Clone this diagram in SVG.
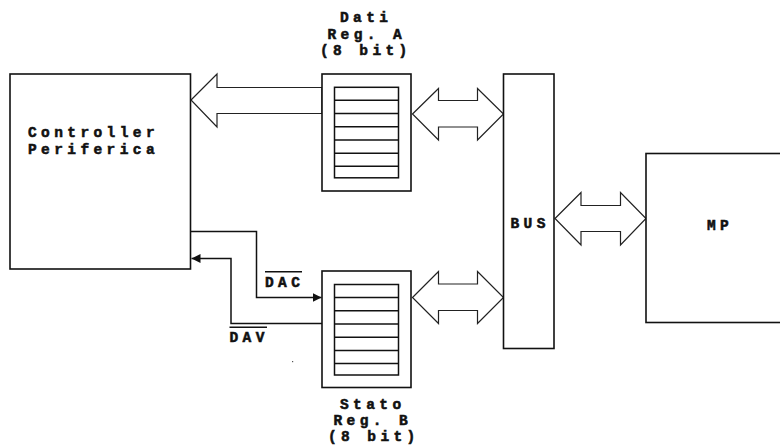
<svg xmlns="http://www.w3.org/2000/svg" width="780" height="446" viewBox="0 0 780 446">
  <style>
    .box { fill: #fff; stroke: #111; stroke-width: 1.6; }
    .reg { fill: #fff; stroke: #111; stroke-width: 1.5; }
    .row { stroke: #111; stroke-width: 1.5; }
    .big { fill: #fff; stroke: #222; stroke-width: 1.2; stroke-linejoin: miter; }
    .wire { fill: none; stroke: #111; stroke-width: 1.5; }
    .lbl { font-family: "Liberation Mono", "DejaVu Sans Mono", monospace; font-weight: bold; font-size: 14.5px; letter-spacing: 4.4px; fill: #111; stroke: #111; stroke-width: 0.55; }
    .bar { stroke: #111; stroke-width: 1.4; }
  </style>
  <defs>
    <marker id="tip" viewBox="0 0 10 10" refX="10" refY="5" markerWidth="9" markerHeight="14" markerUnits="userSpaceOnUse" orient="auto">
      <path d="M0,0 L10,5 L0,10 Z" fill="#111"/>
    </marker>
    <!-- 7 storage cells of an 8-bit register -->
    <g id="cells">
      <rect class="reg" x="334.5" y="0" width="64" height="90.5"/>
      <line class="row" x1="334.5" y1="13" x2="398.5" y2="13"/>
      <line class="row" x1="334.5" y1="26.3" x2="398.5" y2="26.3"/>
      <line class="row" x1="334.5" y1="39.5" x2="398.5" y2="39.5"/>
      <line class="row" x1="334.5" y1="52.8" x2="398.5" y2="52.8"/>
      <line class="row" x1="334.5" y1="66" x2="398.5" y2="66"/>
      <line class="row" x1="334.5" y1="79" x2="398.5" y2="79"/>
    </g>
  </defs>
  <rect width="780" height="446" fill="#fff"/>

  <!-- wide data paths -->
  <g id="connectors">
    <path class="big" d="M191,100 L217,74 L217,87.5 L322,87.5 L322,113.5 L217,113.5 L217,127 Z"/>
    <path class="big" d="M412.5,114 L438.5,88.5 L438.5,100.5 L477.5,100.5 L477.5,88.5 L503.5,114 L477.5,140 L477.5,127 L438.5,127 L438.5,140 Z"/>
    <path class="big" d="M412.5,297.5 L438.5,271.5 L438.5,284 L477.5,284 L477.5,271.5 L503.5,297.5 L477.5,323.5 L477.5,310.5 L438.5,310.5 L438.5,323.5 Z"/>
    <path class="big" d="M555,218.5 L581,192.5 L581,205.5 L620.5,205.5 L620.5,192.5 L646,218.5 L620.5,245 L620.5,231.5 L581,231.5 L581,245 Z"/>
    <!-- handshake lines -->
    <path class="wire" d="M191,231.5 L256.5,231.5 L256.5,297.5 L321.5,297.5" marker-end="url(#tip)"/>
    <path class="wire" d="M322,323.5 L231,323.5 L231,258.5 L191.5,258.5" marker-end="url(#tip)"/>
  </g>

  <g id="controller">
    <rect class="box" x="10" y="74" width="180.5" height="195"/>
    <text class="lbl" x="28" y="137">Controller</text>
    <text class="lbl" x="28" y="153.5">Periferica</text>
  </g>

  <g id="reg-a">
    <rect class="box" x="322" y="74" width="89" height="117"/>
    <use href="#cells" y="87.3"/>
    <text class="lbl" x="340" y="22">Dati</text>
    <text class="lbl" x="327.5" y="38.5">Reg. A</text>
    <text class="lbl" x="320" y="54.5">(8 bit)</text>
  </g>

  <g id="reg-b">
    <rect class="box" x="322" y="271" width="89" height="116.5"/>
    <use href="#cells" y="284.5"/>
    <text class="lbl" x="340" y="409">Stato</text>
    <text class="lbl" x="333.5" y="425">Reg. B</text>
    <text class="lbl" x="328" y="441">(8 bit)</text>
  </g>

  <g id="bus">
    <rect class="box" x="503.5" y="74" width="50.5" height="274.5"/>
    <text class="lbl" x="510.5" y="227.5">BUS</text>
  </g>

  <g id="mp">
    <rect class="box" x="646" y="153.5" width="150" height="169"/>
    <text class="lbl" x="707" y="229.5">MP</text>
  </g>

  <g id="signal-labels">
    <text class="lbl" x="265" y="287">DAC</text>
    <line class="bar" x1="265" y1="271.7" x2="302" y2="271.7"/>
    <text class="lbl" x="229.5" y="342">DAV</text>
    <line class="bar" x1="229.5" y1="327.3" x2="267" y2="327.3"/>
  </g>

  <rect x="292" y="361" width="1.2" height="1.2" fill="#555"/>
</svg>
